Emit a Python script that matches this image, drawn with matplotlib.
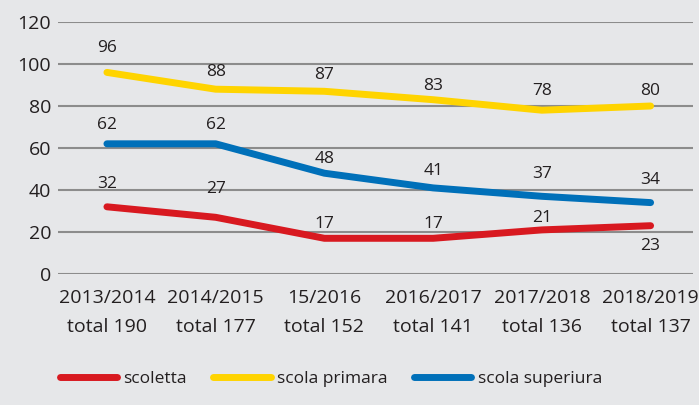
import matplotlib.pyplot as plt

# ==============================================================================
# DATI
# ==============================================================================
YEARS = ["2013/2014", "2014/2015", "15/2016", "2016/2017", "2017/2018", "2018/2019"]
TOTALS = [190, 177, 152, 141, 136, 137]

SCOLETTA = [32, 27, 17, 17, 21, 23]
SCOLA_PRIMARA = [96, 88, 87, 83, 78, 80]
SCOLA_SUPERIURA = [62, 62, 48, 41, 37, 34]

# offset (pixel) of the value labels above the line
LABEL_OFFSETS = {
    "scoletta": [23, 28, 14, 14, 12, -20],
    "scola primara": [24, 17, 16, 14, 19, 15],
    "scola superiura": [19, 19, 14, 17, 22, 23],
}

COLORS = {
    "scoletta": "#d81920",
    "scola primara": "#ffd400",
    "scola superiura": "#0070b9",
}

BG = "#e6e7e9"
TEXT = "#231f20"
GRID = "#8c8c8c"

plt.rcParams["font.family"] = ["Open Sans", "DejaVu Sans"]


def main():
    fig = plt.figure(figsize=(6.99, 4.05), dpi=100, facecolor=BG)
    ax = fig.add_axes([58 / 699, 1 - 274 / 405, 635 / 699, 252 / 405])
    ax.set_facecolor(BG)

    xs = list(range(len(YEARS)))
    series = [
        ("scoletta", SCOLETTA),
        ("scola primara", SCOLA_PRIMARA),
        ("scola superiura", SCOLA_SUPERIURA),
    ]

    for name, values in series:
        ax.plot(xs, values, color=COLORS[name], lw=5, solid_capstyle="round",
                solid_joinstyle="round", label=name, zorder=3)
        for x, v, off in zip(xs, values, LABEL_OFFSETS[name]):
            ax.annotate(str(v), (x, v), xytext=(0, off * 0.72), textcoords="offset points",
                        ha="center", va="center", fontsize=12.5, color=TEXT, zorder=4)

    ax.set_xlim(-0.45, 5.39)
    ax.set_ylim(0, 120)
    ax.set_yticks(range(0, 121, 20))
    ax.set_xticks(xs)
    ax.set_xticklabels([f"{y}\ntotal {t}" for y, t in zip(YEARS, TOTALS)],
                       linespacing=1.8)
    ax.tick_params(axis="both", length=0, labelsize=14, colors=TEXT)
    ax.tick_params(axis="y", pad=5)
    ax.tick_params(axis="x", pad=10.5)
    ax.grid(axis="y", color=GRID, lw=1.5, zorder=1)
    ax.set_axisbelow(True)
    for s in ax.spines.values():
        s.set_visible(False)

    fig.legend(loc="lower left", bbox_to_anchor=(44 / 699, 1 - 403 / 405), ncol=3,
               frameon=False, fontsize=12.5, handlelength=3.3, handletextpad=0.35,
               columnspacing=1.55, labelcolor=TEXT)

    fig.savefig("out.png", dpi=100, facecolor=BG)
    plt.close(fig)


if __name__ == "__main__":
    main()
